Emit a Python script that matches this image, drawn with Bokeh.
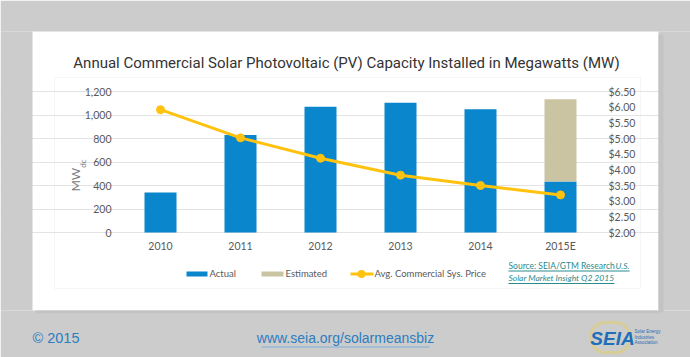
from math import pi
from bokeh.plotting import figure
from bokeh.models import (Range1d, LinearAxis, FixedTicker,
                          NumeralTickFormatter, BoxAnnotation, Label, ColumnDataSource)
from bokeh.embed import file_html
from bokeh.resources import INLINE

# ---- data ----
years = ["2010", "2011", "2012", "2013", "2014", "2015E"]
actual = [340, 830, 1070, 1105, 1050, 433]
estimated = [0, 0, 0, 0, 0, 702]
price = [5.92, 5.02, 4.37, 3.83, 3.50, 3.20]
mw_ticks = [0, 200, 400, 600, 800, 1000, 1200]
price_ticks = [2.0, 2.5, 3.0, 3.5, 4.0, 4.5, 5.0, 5.5, 6.0, 6.5]

title_text = "Annual Commercial Solar Photovoltaic (PV) Capacity Installed in Megawatts (MW)"

BLUE = "#0a86cc"
TAN = "#cbc4a2"
GOLD = "#ffc20e"
GRAY_TXT = "#595959"
BG = "#cccccc"
TICK_FONT = "Lato"

# ---- layout constants (canvas pixels) ----
W, H = 690, 357
PL, PR, PT, PB = 120, 600, 91, 232          # plot area
NCAT = len(years)
MW_MAX, P_MIN, P_MAX = 1200, 2.0, 6.5

xpx = NCAT / (PR - PL)
ypx = MW_MAX / (PB - PT)
ppx = (P_MAX - P_MIN) / (PB - PT)

xpos = [i + 0.5 for i in range(NCAT)]

p = figure(width=W, height=H,
           x_range=Range1d(-PL * xpx, NCAT + (W - PR) * xpx),
           y_range=Range1d(-(H - PB) * ypx, MW_MAX + PT * ypx),
           output_backend="svg", toolbar_location=None,
           min_border=0, min_border_left=0, min_border_right=0,
           min_border_top=0, min_border_bottom=0,
           border_fill_color="white", background_fill_color="white",
           outline_line_color=None)

# pixel helper ranges (data value == canvas pixel)
p.extra_x_ranges = {"px": Range1d(0, W)}
p.extra_y_ranges = {"price": Range1d(P_MIN - (H - PB) * ppx, P_MAX + PT * ppx),
                    "py": Range1d(H, 0)}

src = ColumnDataSource(dict(x=xpos, year=years, actual=actual,
                            estimated=estimated, price=price))

p.ygrid.ticker = FixedTicker(ticks=mw_ticks)
p.ygrid.grid_line_color = "#e3e3e3"
p.ygrid.grid_line_width = 1
p.ygrid.bounds = (0, NCAT)
p.xgrid.visible = False

p.vbar_stack(["actual", "estimated"], x="x", width=0.4, color=[BLUE, TAN],
             line_color=None, source=src)
p.line("x", "price", source=src, y_range_name="price", color=GOLD, line_width=3)
p.scatter("x", "price", source=src, y_range_name="price", size=8,
          color=GOLD, line_color=GOLD)

right = LinearAxis(y_range_name="price", ticker=FixedTicker(ticks=price_ticks),
                   formatter=NumeralTickFormatter(format="$0.00"), fixed_location=NCAT)
p.add_layout(right, "right")

p.xaxis[0].ticker = FixedTicker(ticks=xpos)
p.xaxis[0].major_label_overrides = {x: y for x, y in zip(xpos, years)}
p.xaxis[0].fixed_location = 0
p.yaxis[0].ticker = FixedTicker(ticks=mw_ticks)
p.yaxis[0].formatter = NumeralTickFormatter(format="0,0")
p.yaxis[0].fixed_location = 0

for ax in [p.xaxis[0], p.yaxis[0], right]:
    ax.axis_line_color = None
    ax.major_tick_line_color = None
    ax.minor_tick_line_color = None
    ax.major_tick_in = 0
    ax.major_tick_out = 0
    ax.major_label_text_font = TICK_FONT
    ax.major_label_text_font_size = "10.5px"
    ax.major_label_text_color = GRAY_TXT
p.yaxis[0].major_label_standoff = 9
right.major_label_standoff = 8
p.xaxis[0].major_label_standoff = 7


def box(l, r, t, b, color, alpha=1, line_color=None, **kw):
    p.add_layout(BoxAnnotation(left=l, right=r, top=t, bottom=b,
                               x_range_name="px", y_range_name="py",
                               fill_color=color, fill_alpha=alpha,
                               line_color=line_color, **kw))


def label(x, y, text, size, color, font="Lato", align="left",
          baseline="middle", style="normal", angle=0):
    p.add_layout(Label(x=x, y=y, text=text, x_range_name="px", y_range_name="py",
                       text_font=font, text_font_size=f"{size}px", text_color=color,
                       text_align=align, text_baseline=baseline,
                       text_font_style=style, angle=angle))


# gray page around the white card
box(0, W, 0, 31, BG)
box(0, W, 310, H, BG)
box(0, 32, 31, 310, BG)
box(658, W, 31, 310, BG)
box(658, 663, 34, 312, "#c3c3c3")
box(35, 658, 310, 313, "#c3c3c3")
# inner chart box
box(54, 640, 77, 288, None, alpha=0, line_color="#e2e2e2", line_width=1)

# title
label(346, 62, title_text, 15, "#333333", font="Roboto", align="center")

# y-axis label MW_dc
label(75, 179, "MW", 12, "#7a7a7a", angle=pi / 2, align="center")
label(82, 163, "dc", 8, "#7a7a7a", angle=pi / 2, align="center")

# legend
box(186, 207, 271, 276, BLUE)
label(209, 273, "Actual", 9.5, GRAY_TXT)
box(261, 283, 271, 276, TAN)
label(285, 273, "Estimated", 9.5, GRAY_TXT)
box(350, 373, 272, 275, GOLD)
box(357, 365, 269.5, 277.5, GOLD, border_radius=4)
label(374, 273, "Avg. Commercial Sys. Price", 9.5, GRAY_TXT)

# source
TEAL = "#2a8a8c"
label(508, 265, "Source: SEIA/GTM Research", 8.5, TEAL)
label(629, 265, "U.S.", 8.5, TEAL, align="right", style="italic")
box(508, 629, 270, 271, TEAL)
label(508, 277.5, "Solar Market Insight Q2 2015", 8.5, TEAL, style="italic")
box(508, 614, 282.5, 283.5, TEAL)

# footer
FOOT = "#2d7dc0"
label(32, 337, "\u00a9 2015", 14.5, FOOT, font="Liberation Sans")
label(345, 337, "www.seia.org/solarmeansbiz", 14, FOOT, font="Liberation Sans", align="center")
box(261, 429, 346, 347, "#7fb0dc")

# SEIA logo (approximation)
box(590, 630, 322, 352, None, alpha=0, line_color="#f3d21a", line_width=3, border_radius=15)
label(612, 338, "SEIA", 19, "#1f6fb8", font="Liberation Sans", align="center", style="bold italic")
label(634, 331, "Solar Energy", 4.5, "#1f6fb8", font="Liberation Sans")
label(634, 336.5, "Industries", 4.5, "#1f6fb8", font="Liberation Sans")
label(634, 342, "Association", 4.5, "#1f6fb8", font="Liberation Sans")

open("out.html", "w").write(file_html(p, INLINE))
